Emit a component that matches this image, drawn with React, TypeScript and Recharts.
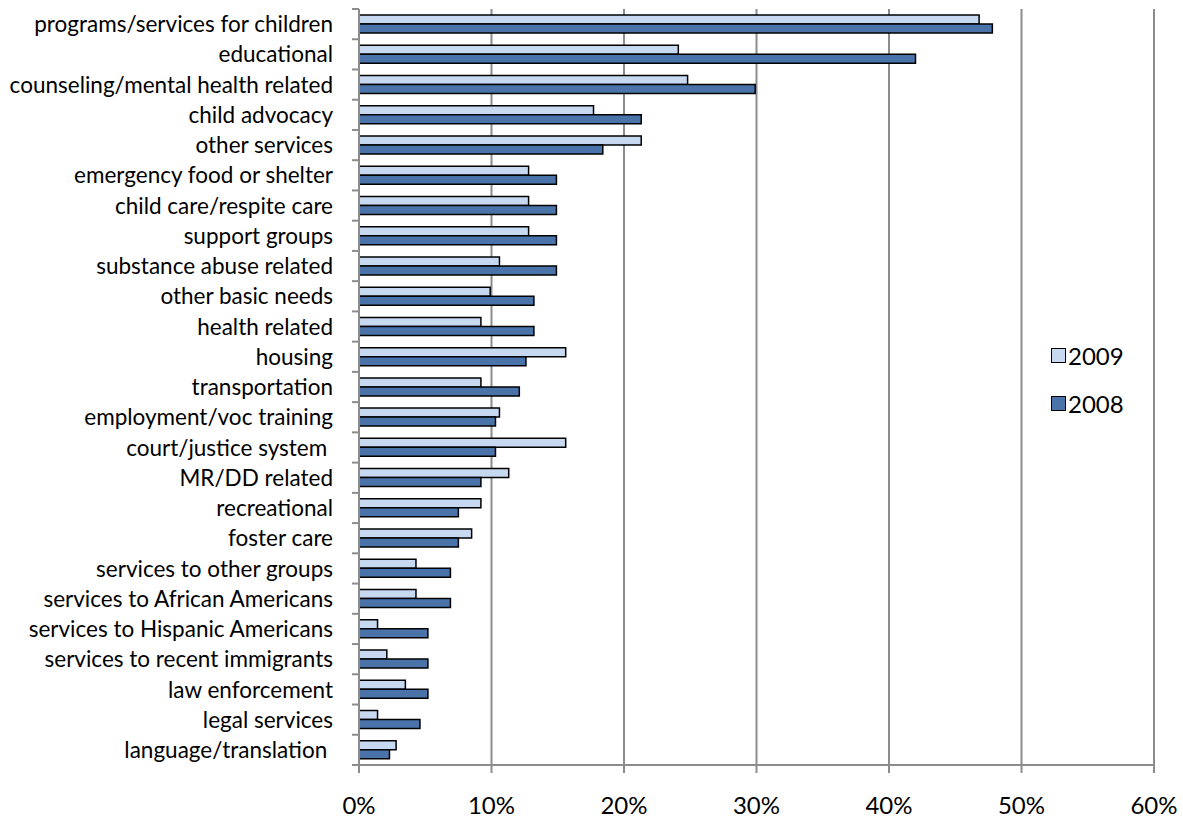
import React from "react";
import { BarChart, Bar, XAxis, YAxis, CartesianGrid, Legend } from "recharts";

const categories = [
  "programs/services for children",
  "educational",
  "counseling/mental health related",
  "child advocacy",
  "other services",
  "emergency food or shelter",
  "child care/respite care",
  "support groups",
  "substance abuse related",
  "other basic needs",
  "health related",
  "housing",
  "transportation",
  "employment/voc training",
  "court/justice system ",
  "MR/DD related",
  "recreational",
  "foster care",
  "services to other groups",
  "services to African Americans",
  "services to Hispanic Americans",
  "services to recent immigrants",
  "law enforcement",
  "legal services",
  "language/translation ",
];

const values2009 = [
  46.8, 24.1, 24.8, 17.7, 21.3, 12.8, 12.8, 12.8, 10.6, 9.9, 9.2, 15.6, 9.2,
  10.6, 15.6, 11.3, 9.2, 8.5, 4.3, 4.3, 1.4, 2.1, 3.5, 1.4, 2.8,
];

const values2008 = [
  47.8, 42.0, 29.9, 21.3, 18.4, 14.9, 14.9, 14.9, 14.9, 13.2, 13.2, 12.6, 12.1,
  10.3, 10.3, 9.2, 7.5, 7.5, 6.9, 6.9, 5.2, 5.2, 5.2, 4.6, 2.3,
];

const xTicks = [0, 10, 20, 30, 40, 50, 60];

const seriesColors = { "2009": "#C6D9F1", "2008": "#4A74A9" };

const data = categories.map((name, i) => ({
  name,
  "2009": values2009[i],
  "2008": values2008[i],
}));

const FONT = "Lato, sans-serif";
const W = 1183;
const H = 821;
const MARGIN = { top: 9, right: 29, bottom: 0, left: 0 };
const Y_AXIS_W = 359;
const X_AXIS_H = 56;
const plotHeight = H - MARGIN.top - MARGIN.bottom - X_AXIS_H;
const halfBand = plotHeight / categories.length / 2;

// category ticks sit between categories, like Excel
function CategoryTick(props: any) {
  const { x, y, payload, index } = props;
  const axisX = Y_AXIS_W;
  return (
    <g>
      <line x1={axisX - 7} x2={axisX} y1={y - halfBand} y2={y - halfBand} stroke="#8c8c8c" strokeWidth={2} />
      {index === categories.length - 1 && (
        <line x1={axisX - 7} x2={axisX} y1={y + halfBand} y2={y + halfBand} stroke="#8c8c8c" strokeWidth={2} />
      )}
      <text
        x={x}
        y={y}
        dy="0.36em"
        textAnchor="end"
        fill="#000"
        fontSize={22.5}
        fontFamily={FONT}
        style={{ whiteSpace: "pre" }}
      >
        {payload.value}
      </text>
    </g>
  );
}

function LegendBox() {
  const items = ["2009", "2008"] as const;
  return (
    <div style={{ fontFamily: FONT, fontSize: 24, color: "#000" }}>
      {items.map((k) => (
        <div key={k} style={{ display: "flex", alignItems: "center", height: 48 }}>
          <span
            style={{
              display: "inline-block",
              width: 13,
              height: 13,
              background: seriesColors[k],
              border: "1px solid #000",
              marginRight: 2,
            }}
          />
          <span>{k}</span>
        </div>
      ))}
    </div>
  );
}

export default function App() {
  return (
    <div style={{ position: "absolute", left: 0, top: 0, background: "#fff" }}>
      <BarChart
        width={W}
        height={H}
        data={data}
        layout="vertical"
        margin={MARGIN}
        barGap={0}
        barSize={9}
      >
        <CartesianGrid horizontal={false} stroke="#8c8c8c" strokeWidth={2} />
        <XAxis
          type="number"
          domain={[0, 60]}
          ticks={xTicks}
          tickFormatter={(v) => `${v}%`}
          height={X_AXIS_H}
          stroke="#8c8c8c"
          strokeWidth={2}
          tickSize={8}
          tickMargin={24}
          tick={{ fill: "#000", fontSize: 24, fontFamily: FONT }}
          interval={0}
        />
        <YAxis
          type="category"
          dataKey="name"
          width={Y_AXIS_W}
          stroke="#8c8c8c"
          strokeWidth={2}
          tickLine={false}
          tickSize={7}
          tickMargin={19}
          interval={0}
          tick={<CategoryTick />}
        />
        <Legend
          layout="vertical"
          align="center"
          verticalAlign="middle"
          content={<LegendBox />}
          wrapperStyle={{ left: 1051, top: 331, width: "auto" }}
        />
        <Bar dataKey="2009" fill={seriesColors["2009"]} stroke="#000" strokeWidth={1.5} isAnimationActive={false} />
        <Bar dataKey="2008" fill={seriesColors["2008"]} stroke="#000" strokeWidth={1.5} isAnimationActive={false} />
      </BarChart>
    </div>
  );
}
